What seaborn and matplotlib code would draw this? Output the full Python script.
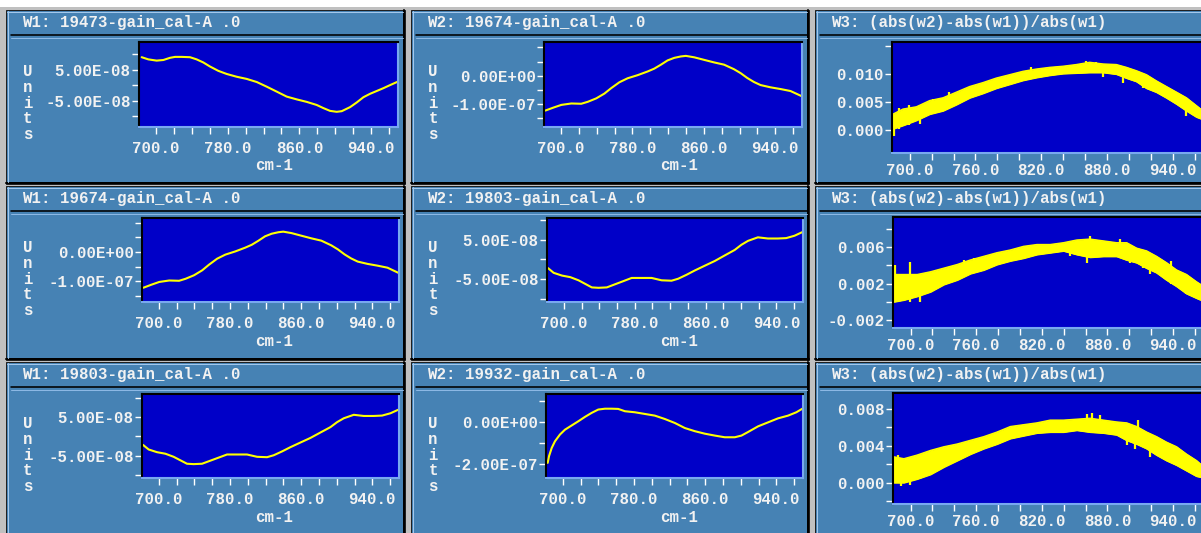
import matplotlib
matplotlib.use("Agg")
import matplotlib.pyplot as plt
from matplotlib.patches import Rectangle
from matplotlib.ticker import FixedLocator, FixedFormatter
import pandas as pd
import seaborn as sns

# ---------------------------------------------------------------- data
# wavenumber (cm-1) and signal, signal in units of 1e-8
S19473_X = [684.0, 691.4, 700.7, 708.2, 715.6, 721.2, 728.6, 737.9, 745.3, 752.8,
            760.2, 769.5, 778.8, 790.0, 801.2, 812.4, 823.5, 834.7, 845.8, 857.0,
            868.1, 879.3, 886.7, 894.2, 901.6, 907.2, 916.5, 923.9, 931.4, 938.8,
            946.2, 953.6, 961.1, 970.4]
S19473_Y = [9.1, 8.4, 8.0, 8.2, 8.9, 9.2, 9.2, 9.1, 8.4, 7.4,
            6.1, 4.7, 3.7, 2.8, 2.1, 1.1, -0.4, -2.0, -3.6, -4.5,
            -5.3, -6.3, -7.3, -8.2, -8.5, -8.3, -7.0, -5.5, -3.8, -2.7,
            -1.8, -0.9, 0.1, 1.3]

S19674_X = [682.5, 691.1, 700.4, 711.6, 722.7, 730.1, 739.5, 748.7, 756.2, 765.5,
            774.7, 785.9, 797.1, 804.5, 812.0, 819.4, 826.9, 834.3, 839.9, 849.2,
            860.3, 871.5, 882.7, 893.8, 901.3, 908.7, 916.1, 923.6, 934.8, 945.9,
            957.1, 969.5]
S19674_Y = [-12.3, -11.3, -10.3, -9.8, -9.9, -9.2, -8.0, -6.3, -4.4, -2.3,
            -0.9, 0.2, 1.5, 2.5, 3.9, 5.4, 6.3, 6.8, 7.0, 6.5,
            5.6, 4.7, 3.9, 2.3, 0.9, -0.8, -2.2, -3.3, -4.1, -4.7,
            -5.4, -7.2]

S19803_X = [682.1, 688.5, 697.9, 707.3, 716.6, 724.1, 731.6, 739.1, 748.5, 757.9,
            767.3, 776.6, 787.9, 799.1, 810.4, 821.6, 829.1, 838.5, 847.9, 859.1,
            870.4, 881.6, 892.9, 900.4, 907.9, 919.1, 930.4, 941.6, 951.0, 960.4,
            969.0]
S19803_Y = [-2.2, -3.4, -4.1, -4.5, -5.3, -6.2, -7.1, -7.2, -7.1, -6.3,
            -5.5, -4.7, -4.7, -4.7, -5.3, -5.4, -4.9, -3.9, -2.8, -1.6,
            -0.4, 1.0, 2.4, 3.7, 4.7, 5.6, 5.3, 5.3, 5.4, 6.0,
            6.9]

S19932_X = [682.9, 684.4, 687.4, 691.1, 696.7, 702.3, 709.8, 717.3, 724.8, 732.3,
            739.8, 747.3, 754.7, 762.2, 769.7, 780.9, 792.2, 803.4, 814.6, 825.9,
            837.1, 848.3, 859.6, 870.8, 882.0, 893.3, 900.8, 908.2, 919.5, 930.7,
            941.9, 953.2, 962.5, 969.3]
S19932_Y = [-19.5, -16.3, -12.4, -9.2, -6.0, -3.7, -1.7, 0.3, 2.4, 4.3,
            5.9, 6.3, 6.3, 6.2, 5.1, 4.6, 3.8, 3.0, 1.4, -0.5,
            -2.9, -4.4, -5.6, -6.5, -7.3, -7.3, -6.5, -4.8, -2.1, -0.2,
            1.7, 3.0, 4.6, 6.3]

# relative difference (abs(w2)-abs(w1))/abs(w1): noise envelope, units of 1e-3
W3_X = [684.8, 693.9, 706.1, 718.2, 730.4, 742.6, 754.7, 766.9, 779.0, 791.2,
        803.3, 815.5, 827.7, 839.8, 852.0, 864.1, 876.3, 888.4, 897.6, 906.7,
        915.8, 924.9, 934.0, 943.2, 952.3, 961.4, 965.3]

W3A_LO = [0.3, 0.9, 1.8, 2.9, 3.5, 4.6, 5.8, 6.6, 7.5, 8.2,
          8.9, 9.4, 9.8, 10.1, 10.2, 10.3, 10.3, 10.0, 9.3, 8.7,
          7.5, 6.8, 5.8, 4.7, 3.5, 2.4, 2.1]
W3A_HI = [2.9, 3.8, 4.2, 5.3, 5.8, 6.8, 7.8, 8.5, 9.3, 9.9,
          10.5, 10.9, 11.2, 11.4, 11.7, 12.1, 11.8, 11.7, 11.2, 10.6,
          9.9, 8.8, 7.8, 6.8, 5.8, 4.4, 3.8]
W3A_SPIKE_X = [686.0, 690.0, 699.0, 709.0, 721.0, 736.0, 811.0, 861.0, 870.0,
               876.0, 894.5, 913.0, 937.0, 952.0]
W3A_SPIKE_LO = [-0.9, 0.2, 1.0, 1.1, 3.8, 4.8, 9.8, 10.8, 10.8,
                9.4, 8.5, 7.5, 5.9, 2.6]
W3A_SPIKE_HI = [2.0, 3.9, 4.6, 3.2, 5.6, 6.8, 11.2, 12.4, 12.2,
                11.2, 10.5, 9.2, 7.2, 4.8]

W3B_LO = [0.0, 0.2, 0.6, 1.1, 1.9, 2.4, 3.1, 3.5, 4.1, 4.5,
          4.8, 5.2, 5.4, 5.6, 5.2, 4.9, 5.0, 5.0, 4.6, 4.3,
          3.7, 3.2, 2.4, 1.7, 0.9, 0.4, 0.2]
W3B_HI = [3.0, 3.0, 3.0, 3.3, 3.7, 4.1, 4.6, 5.0, 5.4, 5.7,
          6.1, 6.3, 6.3, 6.5, 6.8, 6.9, 6.7, 6.5, 6.5, 5.9,
          5.6, 5.0, 4.3, 3.5, 3.0, 2.2, 1.9]
W3B_SPIKE_X = [685.4, 699.0, 709.0, 748.6, 757.8, 846.0, 861.7, 864.0, 891.5,
               900.6, 912.8, 918.8, 938.0, 952.0]
W3B_SPIKE_LO = [0.5, 0.0, 0.0, 3.0, 3.3, 5.0, 4.3, 6.0, 5.8,
                4.3, 3.7, 3.0, 2.0, 0.8]
W3B_SPIKE_HI = [4.1, 4.4, 2.0, 4.6, 4.8, 6.3, 6.5, 7.2, 6.9,
                5.8, 5.2, 4.6, 4.5, 2.4]

W3C_LO = [0.0, 0.0, 0.4, 0.9, 1.7, 2.4, 3.1, 3.7, 4.2, 4.8,
          5.1, 5.4, 5.5, 5.5, 5.7, 5.5, 5.4, 5.2, 4.6, 4.2,
          3.7, 3.0, 2.4, 1.9, 1.3, 0.7, 0.6]
W3C_HI = [2.8, 2.6, 3.0, 3.5, 3.9, 4.2, 4.6, 5.0, 5.5, 6.1,
          6.3, 6.5, 6.8, 6.8, 6.9, 7.0, 6.8, 6.6, 6.5, 6.1,
          5.5, 5.0, 4.4, 3.9, 3.1, 2.4, 2.0]
W3C_SPIKE_X = [688.4, 691.5, 699.0, 709.0, 724.0, 861.0, 865.7, 873.0, 897.6,
               905.2, 908.0, 918.8, 935.8]
W3C_SPIKE_LO = [1.0, -0.4, -0.3, 0.4, 1.3, 6.0, 6.0, 6.0, 4.1,
                3.7, 5.0, 2.8, 2.4]
W3C_SPIKE_HI = [2.95, 1.0, 1.5, 2.0, 2.6, 7.5, 7.6, 7.4, 5.6,
                5.5, 6.8, 4.0, 3.8]

TITLES = [
    ["W1: 19473-gain_cal-A .0", "W2: 19674-gain_cal-A .0", "W3: (abs(w2)-abs(w1))/abs(w1)"],
    ["W1: 19674-gain_cal-A .0", "W2: 19803-gain_cal-A .0", "W3: (abs(w2)-abs(w1))/abs(w1)"],
    ["W1: 19803-gain_cal-A .0", "W2: 19932-gain_cal-A .0", "W3: (abs(w2)-abs(w1))/abs(w1)"],
]
X_LABEL = "cm-1"
Y_LABEL = "Units"

# ---------------------------------------------------------------- style
PANEL_BG = "#4682b4"
PLOT_BG = "#0000c8"
TRACE = "#ffff00"
TEXT = "#f2f2f2"
GAP = "#c0c0c0"
FS = 11.3

sns.set_style("ticks")
plt.rcParams["font.family"] = ["Liberation Mono", "DejaVu Sans Mono"]
plt.rcParams["font.weight"] = "bold"

W, H = 1201, 533
fig = plt.figure(figsize=(W / 100, H / 100), dpi=100, facecolor="white")

# window chrome drawn in pixel coordinates
bg = fig.add_axes([0, 0, 1, 1], zorder=-5)
bg.set_xlim(0, W)
bg.set_ylim(H, 0)
bg.axis("off")
bg.add_patch(Rectangle((0, 7), W, H, facecolor=GAP, edgecolor="none"))

COLS = [(6, 405), (411, 809), (815, 1216)]
ROWS = [10, 186, 362]
PANEL_H = 174
PX = 0.72  # one pixel in points

for r, top in enumerate(ROWS):
    for c, (x0, x1) in enumerate(COLS):
        bg.add_patch(Rectangle((x0, top), x1 - x0, PANEL_H,
                               facecolor=PANEL_BG, edgecolor="#202020", lw=PX))
        bg.plot([x1 - 1, x1 - 1], [top, top + PANEL_H], color="black", lw=2 * PX)
        bg.plot([x0, x1], [top + PANEL_H - 1, top + PANEL_H - 1], color="black", lw=2 * PX)
        bg.plot([x0 + 1.5, x0 + 1.5], [top + 1, top + PANEL_H - 2], color="#a4c8ec", lw=PX)
        bg.plot([x0 + 1, x1 - 2], [top + 1.5, top + 1.5], color="#a4c8ec", lw=PX)
        bg.plot([x0 + 5, x1 - 2], [top + 24.5, top + 24.5], color="black", lw=1.6 * PX)
        bg.plot([x0 + 5, x1 - 2], [top + 27.5, top + 27.5], color="#8cb8e4", lw=PX)
        bg.text(x0 + 16, top + 17, TITLES[r][c], color=TEXT, fontsize=FS,
                fontweight="bold", va="baseline", ha="left")
        if c < 2:
            bg.text(x0 + 22, top + 93, "\n".join(Y_LABEL), color=TEXT, fontsize=FS,
                    fontweight="bold", ha="center", va="center", linespacing=1.05)
            bg.text(x0 + 268, top + 156, X_LABEL, color=TEXT, fontsize=FS,
                    fontweight="bold", ha="center", va="center")


def px_axes(left, top, right, bottom):
    return fig.add_axes([left / W, 1 - bottom / H, (right - left) / W, (bottom - top) / H])


def style_axes(ax, xlim, ylim, xmajor, xminor, ymajor, yminor, yfmt, xpad):
    ax.set_facecolor(PLOT_BG)
    ax.set_xlim(*xlim)
    ax.set_ylim(*ylim)
    ax.xaxis.set_major_locator(FixedLocator(xmajor))
    ax.xaxis.set_major_formatter(FixedFormatter([f"{v:.1f}" for v in xmajor]))
    ax.xaxis.set_minor_locator(FixedLocator(xminor))
    ax.yaxis.set_major_locator(FixedLocator(ymajor))
    ax.yaxis.set_major_formatter(FixedFormatter([yfmt(v) for v in ymajor]))
    ax.yaxis.set_minor_locator(FixedLocator(yminor))
    ax.tick_params(which="both", direction="out", length=5, width=1, color="white",
                   labelcolor=TEXT, labelsize=FS)
    ax.tick_params(axis="x", which="both", pad=xpad)
    ax.tick_params(axis="y", which="both", pad=1)
    for lab in ax.get_xticklabels() + ax.get_yticklabels():
        lab.set_fontweight("bold")
    for side in ("top", "left"):
        ax.spines[side].set_color("black")
        ax.spines[side].set_linewidth(1.5)
    for side in ("bottom", "right"):
        ax.spines[side].set_color("#78a8f0")
        ax.spines[side].set_linewidth(1.5)
    ax.set_xlabel("")
    ax.set_ylabel("")
    ax.grid(False)


def sci(v):
    return f"{v:.2E}"


def fixed3(v):
    return f"{v:.3f}"


WX_LIM = (681, 970)
WX_MAJOR = [700, 780, 860, 940]
WX_MINOR = [v for v in range(700, 970, 20) if v not in WX_MAJOR]
R_LIM = (683.9, 972)
R_MAJOR = [700, 760, 820, 880, 940]
R_MINOR = [v for v in range(700, 972, 20) if v not in R_MAJOR]

UNIT = 1e-8
wave_panels = [
    # rect, x, y, ylim, labelled y ticks, other y ticks
    ((139, 42, 398, 127), S19473_X, S19473_Y, (-1.34e-7, 1.40e-7), [5e-8, -5e-8], [1e-7, 0.0, -1e-7]),
    ((544, 42, 802, 127), S19674_X, S19674_Y, (-1.81e-7, 1.19e-7), [0.0, -1e-7], [1e-7, 5e-8, -5e-8, -1.5e-7]),
    ((142, 218, 399, 302), S19674_X, S19674_Y, (-1.72e-7, 1.17e-7), [0.0, -1e-7], [1e-7, 5e-8, -5e-8, -1.5e-7]),
    ((547, 218, 803, 302), S19803_X, S19803_Y, (-1.08e-7, 1.05e-7), [5e-8, -5e-8], [1e-7, 0.0, -1e-7]),
    ((142, 394, 399, 478), S19803_X, S19803_Y, (-1.08e-7, 1.10e-7), [5e-8, -5e-8], [1e-7, 0.0, -1e-7]),
    ((546, 394, 803, 478), S19932_X, S19932_Y, (-2.67e-7, 1.33e-7), [0.0, -2e-7], [1e-7, -1e-7]),
]

for rect, xs, ys, ylim, ymaj, ymin in wave_panels:
    ax = px_axes(*rect)
    df = pd.DataFrame({"wavenumber": xs, "signal": [v * UNIT for v in ys]})
    sns.lineplot(data=df, x="wavenumber", y="signal", ax=ax, color=TRACE,
                 lw=1.5, estimator=None, sort=False)
    style_axes(ax, WX_LIM, ylim, WX_MAJOR, WX_MINOR, ymaj, ymin, sci, 5.4)

RUNIT = 1e-3
ratio_panels = [
    ((892, 42, 1208, 153), W3A_LO, W3A_HI, W3A_SPIKE_X, W3A_SPIKE_LO, W3A_SPIKE_HI,
     (-0.0040, 0.0157), [0.0, 0.005, 0.010], [0.015]),
    ((893, 217, 1208, 328), W3B_LO, W3B_HI, W3B_SPIKE_X, W3B_SPIKE_LO, W3B_SPIKE_HI,
     (-0.00289, 0.00933), [-0.002, 0.002, 0.006], [0.0, 0.004, 0.008]),
    ((893, 393, 1208, 504), W3C_LO, W3C_HI, W3C_SPIKE_X, W3C_SPIKE_LO, W3C_SPIKE_HI,
     (-0.00233, 0.00975), [0.0, 0.004, 0.008], [-0.002, 0.002, 0.006]),
]

for rect, lo, hi, sx, slo, shi, ylim, ymaj, ymin in ratio_panels:
    ax = px_axes(*rect)
    lo_v = [v * RUNIT for v in lo]
    hi_v = [v * RUNIT for v in hi]
    ax.fill_between(W3_X, lo_v, hi_v, color=TRACE, lw=0.8, edgecolor=TRACE)
    df = pd.DataFrame({"wavenumber": W3_X * 2, "ratio": lo_v + hi_v,
                       "edge": ["lo"] * len(W3_X) + ["hi"] * len(W3_X)})
    sns.lineplot(data=df, x="wavenumber", y="ratio", units="edge", estimator=None,
                 ax=ax, color=TRACE, lw=1.0)
    ax.vlines(sx, [v * RUNIT for v in slo], [v * RUNIT for v in shi], color=TRACE, lw=1.6)
    style_axes(ax, R_LIM, ylim, R_MAJOR, R_MINOR, ymaj, ymin, fixed3, 2.0)

fig.savefig("out.png", dpi=100, facecolor=fig.get_facecolor())
